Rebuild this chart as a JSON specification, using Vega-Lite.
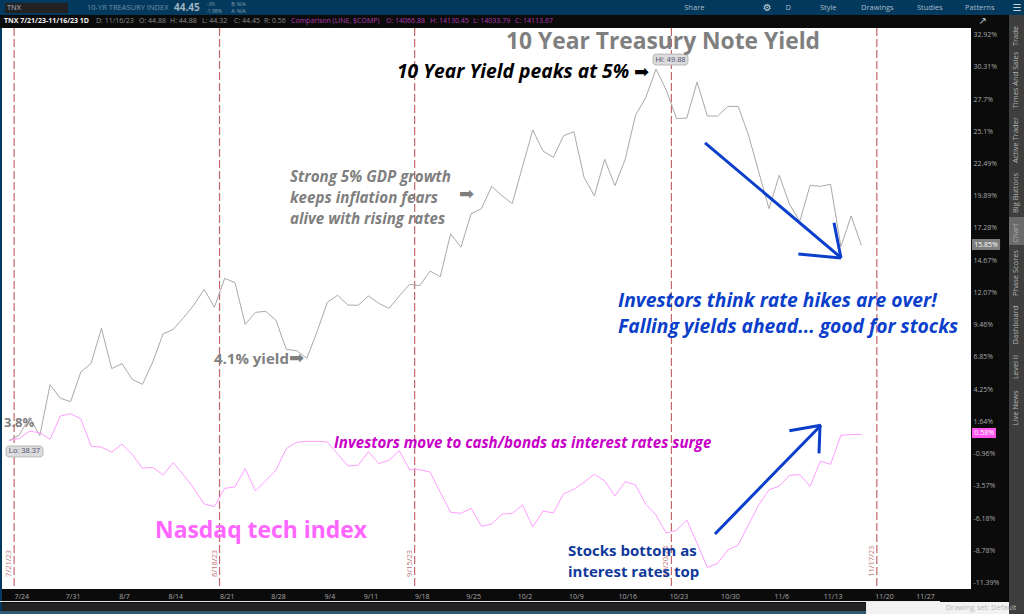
{"$schema":"https://vega.github.io/schema/vega-lite/v6.json","width":969,"height":561,"autosize":"none","padding":{"left":2,"top":28,"right":53,"bottom":25},"background":"#0b0b0b","view":{"fill":"#ffffff","stroke":null},"config":{"font":"Open Sans","text":{"font":"Open Sans"}},
"datasets":{
"tnx":[{"s":0,"p":0.09},{"s":1,"p":0.54},{"s":2,"p":1.97},{"s":3,"p":0.49},{"s":4,"p":4.61},{"s":5,"p":3.51},{"s":6,"p":3.24},{"s":7,"p":5.64},{"s":8,"p":6.34},{"s":9,"p":9.17},{"s":10,"p":5.91},{"s":11,"p":6.31},{"s":12,"p":5.04},{"s":13,"p":4.64},{"s":14,"p":6.45},{"s":15,"p":8.71},{"s":16,"p":9.09},{"s":17,"p":10.03},{"s":18,"p":11.05},{"s":19,"p":12.32},{"s":20,"p":10.87},{"s":21,"p":13.21},{"s":22,"p":12.86},{"s":23,"p":9.49},{"s":24,"p":10.46},{"s":25,"p":10.54},{"s":26,"p":9.81},{"s":27,"p":7.47},{"s":28,"p":7.36},{"s":29,"p":6.74},{"s":30,"p":8.9},{"s":31,"p":11.27},{"s":32,"p":11.84},{"s":33,"p":11.05},{"s":34,"p":11.03},{"s":35,"p":11.78},{"s":36,"p":11.19},{"s":37,"p":10.78},{"s":38,"p":11.78},{"s":39,"p":12.72},{"s":40,"p":12.62},{"s":41,"p":13.8},{"s":42,"p":13.34},{"s":43,"p":16.82},{"s":44,"p":15.72},{"s":45,"p":18.44},{"s":46,"p":18.84},{"s":47,"p":20.65},{"s":48,"p":19.89},{"s":49,"p":19.25},{"s":50,"p":22.24},{"s":51,"p":25.2},{"s":52,"p":23.5},{"s":53,"p":22.99},{"s":54,"p":24.74},{"s":55,"p":25.07},{"s":56,"p":21.37},{"s":57,"p":19.87},{"s":58,"p":22.83},{"s":59,"p":20.7},{"s":60,"p":22.83},{"s":61,"p":26.39},{"s":62,"p":27.82},{"s":63,"p":30.13},{"s":64,"p":28.43},{"s":65,"p":26.12},{"s":66,"p":26.17},{"s":67,"p":29.08},{"s":68,"p":26.33},{"s":69,"p":26.33},{"s":70,"p":27.11},{"s":71,"p":27.11},{"s":72,"p":24.8},{"s":73,"p":21.83},{"s":74,"p":18.84},{"s":75,"p":21.54},{"s":76,"p":19.19},{"s":77,"p":17.82},{"s":78,"p":20.73},{"s":79,"p":20.65},{"s":80,"p":20.81},{"s":81,"p":15.77},{"s":82,"p":18.25},{"s":83,"p":15.88}],
"comp":[{"s":0,"p":0.09},{"s":1,"p":0.27},{"s":2,"p":0.84},{"s":3,"p":0.73},{"s":4,"p":0.19},{"s":5,"p":2.08},{"s":6,"p":2.27},{"s":7,"p":1.84},{"s":8,"p":-0.35},{"s":9,"p":-0.45},{"s":10,"p":-0.83},{"s":11,"p":-0.21},{"s":12,"p":-1.02},{"s":13,"p":-2.15},{"s":14,"p":-2.07},{"s":15,"p":-2.69},{"s":16,"p":-1.69},{"s":17,"p":-2.69},{"s":18,"p":-3.77},{"s":19,"p":-5.03},{"s":20,"p":-5.25},{"s":21,"p":-3.77},{"s":22,"p":-3.66},{"s":23,"p":-2.18},{"s":24,"p":-3.98},{"s":25,"p":-3.15},{"s":26,"p":-2.29},{"s":27,"p":-0.56},{"s":28,"p":-0.05},{"s":29,"p":0.03},{"s":30,"p":0.03},{"s":31,"p":-0.02},{"s":32,"p":-0.99},{"s":33,"p":-1.96},{"s":34,"p":-1.91},{"s":35,"p":-0.8},{"s":36,"p":-1.77},{"s":37,"p":-1.5},{"s":38,"p":-0.72},{"s":39,"p":-2.26},{"s":40,"p":-2.26},{"s":41,"p":-2.45},{"s":42,"p":-4.09},{"s":43,"p":-5.71},{"s":44,"p":-5.79},{"s":45,"p":-5.38},{"s":46,"p":-6.84},{"s":47,"p":-6.65},{"s":48,"p":-5.87},{"s":49,"p":-5.79},{"s":50,"p":-5.11},{"s":51,"p":-6.89},{"s":52,"p":-5.6},{"s":53,"p":-5.76},{"s":54,"p":-4.22},{"s":55,"p":-3.85},{"s":56,"p":-3.28},{"s":57,"p":-2.63},{"s":58,"p":-3.17},{"s":59,"p":-4.39},{"s":60,"p":-3.23},{"s":61,"p":-3.5},{"s":62,"p":-5.06},{"s":63,"p":-5.92},{"s":64,"p":-7.4},{"s":65,"p":-7.16},{"s":66,"p":-6.33},{"s":67,"p":-8.21},{"s":68,"p":-10.18},{"s":69,"p":-9.83},{"s":70,"p":-8.75},{"s":71,"p":-8.35},{"s":72,"p":-6.73},{"s":73,"p":-5.11},{"s":74,"p":-3.9},{"s":75,"p":-3.58},{"s":76,"p":-2.72},{"s":77,"p":-2.66},{"s":78,"p":-3.61},{"s":79,"p":-1.58},{"s":80,"p":-1.83},{"s":81,"p":0.52},{"s":82,"p":0.57},{"s":83,"p":0.6}],
"events":[{"s":0.5,"label":"7/21/23"},{"s":20.5,"label":"8/18/23"},{"s":39.5,"label":"9/15/23"},{"s":64.5,"label":"10/20/23"},{"s":84.5,"label":"11/17/23"}],
"chrome":[{"part":"navy","s":-0.88,"s2":98.84,"p":35.72,"p2":34.5},{"part":"navy","s":-0.88,"s2":-0.68,"p":33.45,"p2":-13.68},{"part":"tabs","s":97.37,"s2":98.84,"p":34.5,"p2":-13.94},{"part":"active","s":97.37,"s2":98.84,"p":18.17,"p2":15.9},{"part":"line","s":-0.88,"s2":90.66,"p":-12.88,"p2":-12.96},{"part":"scroll","s":-0.68,"s2":83.45,"p":-13.04,"p2":-13.68},{"part":"foot","s":-0.88,"s2":83.45,"p":-13.68,"p2":-13.94},{"part":"light","s":83.45,"s2":97.37,"p":-12.96,"p2":-13.94},{"part":"scroll","s":-0.39,"s2":5.74,"p":35.47,"p2":34.66},{"part":"pillgrey","s":93.77,"s2":96.5,"p":16.39,"p2":15.5},{"part":"pillpink","s":93.77,"s2":96.1,"p":1.11,"p2":0.3}],
"pills":[{"s":-0.29,"s2":3.31,"p":-0.35,"p2":-1.23},{"s":62.71,"s2":66.11,"p":31.34,"p2":30.46}],
"arrows":[{"s":67.77,"s2":81.01,"p":24.17,"p2":14.88},{"s":80.33,"s2":81.01,"p":17.71,"p2":14.85},{"s":76.86,"s2":81.01,"p":15.17,"p2":14.85},{"s":68.74,"s2":79.06,"p":-7.46,"p2":1.33},{"s":75.98,"s2":79.06,"p":0.89,"p2":1.33},{"s":78.87,"s2":78.97,"p":-0.94,"p2":1.33}]
},
"encoding":{},
"layer":[
{"data":{"name":"events"},"mark":{"type":"rule","color":"#c4676a","strokeWidth":1.2,"strokeDash":[8,3]},"encoding":{"x":{"field":"s","type":"quantitative","scale":{"domain":[-0.681,93.67],"nice":false,"zero":false},"axis":{"orient":"bottom","title":null,"grid":false,"domain":false,"ticks":false,"labelColor":"#a8a8a8","labelFontSize":7,"labelPadding":3,"labelOffset":2,"labelOverlap":false,"tickCount":40,"values":[1,6,11,16,21,26,31,35,40,45,50,55,60,65,70,75,80,85,89],"labelExpr":"{'1':'7/24','6':'7/31','11':'8/7','16':'8/14','21':'8/21','26':'8/28','31':'9/4','35':'9/11','40':'9/18','45':'9/25','50':'10/2','55':'10/9','60':'10/16','65':'10/23','70':'10/30','75':'11/6','80':'11/13','85':'11/20','89':'11/27'}[datum.value]"}}}},
{"data":{"name":"tnx"},"mark":{"type":"line","color":"#a9a9a9","strokeWidth":1},"encoding":{"x":{"field":"s","type":"quantitative"},"y":{"field":"p","type":"quantitative","scale":{"domain":[-11.91,33.45],"nice":false,"zero":false},"axis":{"orient":"right","title":null,"grid":false,"domain":false,"ticks":false,"labelColor":"#a8a8a8","labelFontSize":7,"labelPadding":2,"labelOverlap":false,"tickCount":40,"values":[32.92,30.31,27.7,25.1,22.49,19.89,17.28,14.67,12.07,9.46,6.85,4.25,1.64,-0.96,-3.57,-6.18,-8.78,-11.39],"labelExpr":"datum.value + '%'"}}}},
{"data":{"name":"comp"},"mark":{"type":"line","color":"#ff9cff","strokeWidth":1},"encoding":{"x":{"field":"s","type":"quantitative"},"y":{"field":"p","type":"quantitative"}}},
{"data":{"name":"arrows"},"mark":{"type":"rule","color":"#0b3fcb","strokeWidth":3},"encoding":{"x":{"field":"s","type":"quantitative"},"x2":{"field":"s2"},"y":{"field":"p","type":"quantitative"},"y2":{"field":"p2"}}},
{"data":{"name":"chrome"},"mark":{"type":"rect","cornerRadius":0},"encoding":{"x":{"field":"s","type":"quantitative"},"x2":{"field":"s2"},"y":{"field":"p","type":"quantitative"},"y2":{"field":"p2"},"color":{"field":"part","type":"nominal","legend":null,"scale":{"domain":["navy","tabs","active","line","scroll","foot","light","pillgrey","pillpink"],"range":["#03395c","#3e3e3e","#6a6a6a","#e8e8e8","#222222","#2c5a72","#f2f2f2","#7d7d7d","#ff55ee"]}}}},
{"data":{"name":"pills"},"mark":{"type":"rect","color":"#dcdcdc","stroke":"#b8b8b8","cornerRadius":3},"encoding":{"x":{"field":"s","type":"quantitative"},"x2":{"field":"s2"},"y":{"field":"p","type":"quantitative"},"y2":{"field":"p2"}}},
{"data":{"name":"events"},"mark":{"type":"text","color":"#c47a7c","fontSize":7.5,"angle":270,"align":"left","baseline":"middle","dy":-5},"encoding":{"x":{"field":"s","type":"quantitative"},"y":{"datum":-10.93},"text":{"field":"label"}}},
{"data":{"values":[{"s":48.39,"p":32.32,"t":"10 Year Treasury Note Yield"}]},"mark":{"type":"text","color":"#7f7f7f","fontWeight":700,"fontSize":22.8,"align":"left","baseline":"middle"},"encoding":{"x":{"field":"s","type":"quantitative"},"y":{"field":"p","type":"quantitative"},"text":{"field":"t"}}},
{"data":{"values":[{"s":37.78,"p":29.89,"t":"10 Year Yield peaks at 5%"}]},"mark":{"type":"text","color":"#000000","fontWeight":700,"fontStyle":"italic","fontSize":19.3,"align":"left","baseline":"middle"},"encoding":{"x":{"field":"s","type":"quantitative"},"y":{"field":"p","type":"quantitative"},"text":{"field":"t"}}},
{"data":{"values":[{"s":60.86,"p":29.81,"t":"➡"}]},"mark":{"type":"text","color":"#000000","font":"DejaVu Sans","fontSize":18,"align":"left","baseline":"middle"},"encoding":{"x":{"field":"s","type":"quantitative"},"y":{"field":"p","type":"quantitative"},"text":{"field":"t"}}},
{"data":{"values":[{"s":43.82,"p":19.95,"t":"➡"},{"s":27.26,"p":6.69,"t":"➡"}]},"mark":{"type":"text","color":"#7f7f7f","font":"DejaVu Sans","fontSize":18,"align":"left","baseline":"middle"},"encoding":{"x":{"field":"s","type":"quantitative"},"y":{"field":"p","type":"quantitative"},"text":{"field":"t"}}},
{"data":{"values":[{"s":27.36,"p":21.4,"t":"Strong 5% GDP growth"},{"s":27.36,"p":19.7,"t":"keeps inflation fears"},{"s":27.36,"p":18.01,"t":"alive with rising rates"}]},"mark":{"type":"text","color":"#7f7f7f","fontWeight":700,"fontStyle":"italic","fontSize":15.2,"align":"left","baseline":"middle"},"encoding":{"x":{"field":"s","type":"quantitative"},"y":{"field":"p","type":"quantitative"},"text":{"field":"t"}}},
{"data":{"values":[{"s":19.96,"p":6.69,"t":"4.1% yield"}]},"mark":{"type":"text","color":"#7f7f7f","fontWeight":700,"fontSize":15,"align":"left","baseline":"middle"},"encoding":{"x":{"field":"s","type":"quantitative"},"y":{"field":"p","type":"quantitative"},"text":{"field":"t"}}},
{"data":{"values":[{"s":-0.49,"p":1.51,"t":"3.8%"}]},"mark":{"type":"text","color":"#7f7f7f","fontWeight":700,"fontSize":13,"align":"left","baseline":"middle"},"encoding":{"x":{"field":"s","type":"quantitative"},"y":{"field":"p","type":"quantitative"},"text":{"field":"t"}}},
{"data":{"values":[{"s":59.3,"p":11.38,"t":"Investors think rate hikes are over!"},{"s":59.3,"p":9.27,"t":"Falling yields ahead... good for stocks"}]},"mark":{"type":"text","color":"#0b3fcb","fontWeight":700,"fontStyle":"italic","fontSize":19.25,"align":"left","baseline":"middle"},"encoding":{"x":{"field":"s","type":"quantitative"},"y":{"field":"p","type":"quantitative"},"text":{"field":"t"}}},
{"data":{"values":[{"s":31.65,"p":-0.1,"t":"Investors move to cash/bonds as interest rates surge"}]},"mark":{"type":"text","color":"#c800c8","fontWeight":700,"fontStyle":"italic","fontSize":15.1,"align":"left","baseline":"middle"},"encoding":{"x":{"field":"s","type":"quantitative"},"y":{"field":"p","type":"quantitative"},"text":{"field":"t"}}},
{"data":{"values":[{"s":14.22,"p":-7.22,"t":"Nasdaq tech index"}]},"mark":{"type":"text","color":"#ff66ff","fontWeight":700,"fontSize":22.9,"align":"left","baseline":"middle"},"encoding":{"x":{"field":"s","type":"quantitative"},"y":{"field":"p","type":"quantitative"},"text":{"field":"t"}}},
{"data":{"values":[{"s":54.43,"p":-8.83,"t":"Stocks bottom as"},{"s":54.43,"p":-10.53,"t":"interest rates top"}]},"mark":{"type":"text","color":"#10399b","fontWeight":700,"fontSize":15,"align":"left","baseline":"middle"},"encoding":{"x":{"field":"s","type":"quantitative"},"y":{"field":"p","type":"quantitative"},"text":{"field":"t"}}},
{"data":{"values":[{"s":1.51,"p":-0.79,"t":"Lo: 38.37"},{"s":64.41,"p":30.9,"t":"Hi: 49.88"}]},"mark":{"type":"text","color":"#555577","fontSize":7.5,"align":"center","baseline":"middle","font":"Liberation Sans"},"encoding":{"x":{"field":"s","type":"quantitative"},"y":{"field":"p","type":"quantitative"},"text":{"field":"t"}}},
{"data":{"values":[{"s":95.13,"p":15.94,"t":"15.85%"},{"s":94.95,"p":0.71,"t":"0.58%"}]},"mark":{"type":"text","color":"#ffffff","fontSize":7,"align":"center","baseline":"middle"},"encoding":{"x":{"field":"s","type":"quantitative"},"y":{"field":"p","type":"quantitative"},"text":{"field":"t"}}},
{"data":{"values":[{"s":-0.2,"p":35.07,"t":"TNX"},{"s":65.75,"p":35.07,"t":"Share"},{"s":75.6,"p":35.07,"t":"D"},{"s":78.96,"p":35.07,"t":"Style"},{"s":82.96,"p":35.07,"t":"Drawings"},{"s":88.41,"p":35.07,"t":"Studies"},{"s":93.09,"p":35.07,"t":"Patterns"}]},"mark":{"type":"text","color":"#a9bcc8","fontSize":7.5,"align":"left","baseline":"middle"},"encoding":{"x":{"field":"s","type":"quantitative"},"y":{"field":"p","type":"quantitative"},"text":{"field":"t"}}},
{"data":{"values":[{"s":73.4,"p":35.07,"t":"⚙"},{"s":97.7,"p":35.07,"t":"☰"},{"s":94.4,"p":34.0,"t":"↗"}]},"mark":{"type":"text","color":"#c8d4dc","font":"DejaVu Sans","fontSize":10,"align":"left","baseline":"middle"},"encoding":{"x":{"field":"s","type":"quantitative"},"y":{"field":"p","type":"quantitative"},"text":{"field":"t"}}},
{"data":{"values":[{"s":7.6,"p":35.07,"t":"10-YR TREASURY INDEX"}]},"mark":{"type":"text","color":"#6f8fa4","fontSize":7.5,"align":"left","baseline":"middle"},"encoding":{"x":{"field":"s","type":"quantitative"},"y":{"field":"p","type":"quantitative"},"text":{"field":"t"}}},
{"data":{"values":[{"s":16.07,"p":35.07,"t":"44.45"}]},"mark":{"type":"text","color":"#9fb4c2","fontSize":10,"fontWeight":700,"align":"left","baseline":"middle"},"encoding":{"x":{"field":"s","type":"quantitative"},"y":{"field":"p","type":"quantitative"},"text":{"field":"t"}}},
{"data":{"values":[{"s":19.2,"p":35.42,"t":"-.90"},{"s":19.2,"p":34.82,"t":"-1.98%"},{"s":21.63,"p":35.42,"t":"B: N/A"},{"s":21.63,"p":34.82,"t":"A: N/A"}]},"mark":{"type":"text","color":"#86a0b0","fontSize":5,"align":"left","baseline":"middle"},"encoding":{"x":{"field":"s","type":"quantitative"},"y":{"field":"p","type":"quantitative"},"text":{"field":"t"}}},
{"data":{"values":[{"s":-0.49,"p":34.0,"t":"TNX 7/21/23-11/16/23 1D"}]},"mark":{"type":"text","color":"#f2f2f2","fontSize":7,"fontWeight":700,"align":"left","baseline":"middle"},"encoding":{"x":{"field":"s","type":"quantitative"},"y":{"field":"p","type":"quantitative"},"text":{"field":"t"}}},
{"data":{"values":[{"s":8.47,"p":34.0,"t":"D: 11/16/23"},{"s":12.66,"p":34.0,"t":"O: 44.88"},{"s":15.68,"p":34.0,"t":"H: 44.88"},{"s":18.79,"p":34.0,"t":"L: 44.32"},{"s":21.91,"p":34.0,"t":"C: 44.45"},{"s":24.83,"p":34.0,"t":"R: 0.56"}]},"mark":{"type":"text","color":"#8a8a8a","fontSize":7,"align":"left","baseline":"middle"},"encoding":{"x":{"field":"s","type":"quantitative"},"y":{"field":"p","type":"quantitative"},"text":{"field":"t"}}},
{"data":{"values":[{"s":27.46,"p":34.0,"t":"Comparison (LINE, $COMP)"},{"s":36.71,"p":34.0,"t":"O: 14066.88"},{"s":41.0,"p":34.0,"t":"H: 14130.45"},{"s":45.18,"p":34.0,"t":"L: 14033.79"},{"s":49.27,"p":34.0,"t":"C: 14113.67"}]},"mark":{"type":"text","color":"#b03ab0","fontSize":7,"align":"left","baseline":"middle"},"encoding":{"x":{"field":"s","type":"quantitative"},"y":{"field":"p","type":"quantitative"},"text":{"field":"t"}}},
{"data":{"values":[{"s":98.1,"p":32.8,"t":"Trade"},{"s":98.1,"p":29.24,"t":"Times And Sales"},{"s":98.1,"p":24.39,"t":"Active Trader"},{"s":98.1,"p":20.11,"t":"Big Buttons"},{"s":98.1,"p":16.87,"t":"Chart"},{"s":98.1,"p":13.64,"t":"Phase Scores"},{"s":98.1,"p":9.43,"t":"Dashboard"},{"s":98.1,"p":6.04,"t":"Level II"},{"s":98.1,"p":2.73,"t":"Live News"}]},"mark":{"type":"text","color":"#b5b5b5","fontSize":7.5,"angle":270,"align":"center","baseline":"middle"},"encoding":{"x":{"field":"s","type":"quantitative"},"y":{"field":"p","type":"quantitative"},"text":{"field":"t"}}},
{"data":{"values":[{"s":91.2,"p":-13.45,"t":"Drawing set: Default"}]},"mark":{"type":"text","color":"#b8b8b8","fontSize":7.5,"align":"left","baseline":"middle"},"encoding":{"x":{"field":"s","type":"quantitative"},"y":{"field":"p","type":"quantitative"},"text":{"field":"t"}}}
]}
